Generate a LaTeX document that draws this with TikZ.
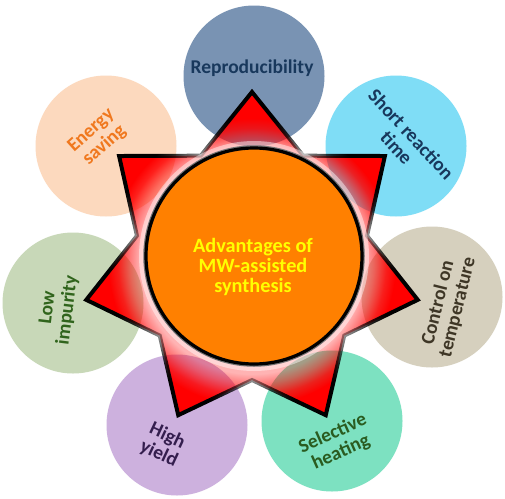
\documentclass[tikz,border=0pt]{standalone}
\usepackage{fontspec}
\setmainfont{Carlito}
\usetikzlibrary{fadings}
\definecolor{reproC}{RGB}{121,147,179}
\definecolor{reproT}{RGB}{24,56,92}
\definecolor{shortC}{RGB}{127,221,246}
\definecolor{controlC}{RGB}{214,208,190}
\definecolor{controlT}{RGB}{62,54,38}
\definecolor{selC}{RGB}{125,225,193}
\definecolor{selT}{RGB}{42,92,32}
\definecolor{highC}{RGB}{205,177,222}
\definecolor{highT}{RGB}{52,30,78}
\definecolor{lowC}{RGB}{200,216,184}
\definecolor{lowT}{RGB}{48,100,28}
\definecolor{energyC}{RGB}{252,217,190}
\definecolor{energyT}{RGB}{240,120,30}
\definecolor{coreC}{RGB}{255,128,0}
\definecolor{coreT}{RGB}{255,255,0}
\pgfdeclareradialshading{starglowshade}{\pgfpointorigin}{%
  color(0pt)=(pgftransparent!72); color(112pt)=(pgftransparent!70);
  color(122pt)=(pgftransparent!48); color(134pt)=(pgftransparent!15);
  color(144pt)=(pgftransparent!0); color(190pt)=(pgftransparent!0)}
\pgfdeclarefading{starfade}{\pgfuseshading{starglowshade}}
\tikzset{
  bubble/.style={circle, inner sep=0pt, minimum size=141pt},
  bubbletext/.style={align=center, inner sep=0pt,
    font=\fontsize{19.5}{20}\selectfont\bfseries},
}
\begin{document}
\begin{tikzpicture}[x=1pt, y=-1pt]
\fill[white] (0,0) rectangle (505,498);
\useasboundingbox (0,0) rectangle (505,498);
% outer circles
\node[bubble, fill=reproC]   (repro)   at (254,76)  {};
\node[bubble, fill=shortC]   (short)   at (396,146) {};
\node[bubble, fill=controlC] (control) at (432,297) {};
\node[bubble, fill=selC]     (sel)     at (332,421) {};
\node[bubble, fill=highC]    (high)    at (177,425) {};
\node[bubble, fill=lowC]     (low)     at (73,303)  {};
\node[bubble, fill=energyC]  (energy)  at (106,146) {};
% star
\coordinate (C) at (252,262);
\path[fill=red, draw=black, line width=4pt, line join=miter,
      path fading=starfade, fit fading=false, fading transform={shift={(252,262)}}]
  ([shift={(-90:170)}]C) -- ([shift={(-64.286:118)}]C)
  -- ([shift={(-38.571:170)}]C) -- ([shift={(-12.857:118)}]C)
  -- ([shift={(12.857:170)}]C) -- ([shift={(38.571:118)}]C)
  -- ([shift={(64.286:170)}]C) -- ([shift={(90:118)}]C)
  -- ([shift={(115.714:170)}]C) -- ([shift={(141.429:118)}]C)
  -- ([shift={(167.143:170)}]C) -- ([shift={(192.857:118)}]C)
  -- ([shift={(218.571:170)}]C) -- ([shift={(244.286:118)}]C) -- cycle;
% central circle
\coordinate (O) at (254,256);
\draw[white, opacity=0.45, line width=6pt] (O) circle[radius=112];
\draw[black!55, line width=5.5pt] (O) circle[radius=108];
\node[circle, inner sep=0pt, minimum size=216pt, fill=coreC, draw=black, line width=3.2pt] (core) at (O) {};
% texts
\node[bubbletext, text=reproT] (reproL) at (252,68) {Reproducibility};
\node[bubbletext, text=reproT, rotate=-47] (shortL) at (404,141) {Short reaction\\time};
\node[bubbletext, text=controlT, rotate=76] (controlL) at (448,305) {Control on\\temperature};
\node[bubbletext, text=selT, rotate=24] (selL) at (337,443) {Selective\\heating};
\node[bubbletext, text=highT, rotate=-25] (highL) at (163,445) {High\\yield};
\node[bubbletext, text=lowT, rotate=83] (lowL) at (58,309) {Low\\impurity};
\node[bubbletext, text=energyT, rotate=42] (energyL) at (98,138) {Energy\\saving};
\node[align=center, inner sep=0pt, text=coreT, font=\fontsize{20.3}{20}\selectfont\bfseries] (coreL) at (253,267) {Advantages of\\MW-assisted\\synthesis};
\end{tikzpicture}
\end{document}
